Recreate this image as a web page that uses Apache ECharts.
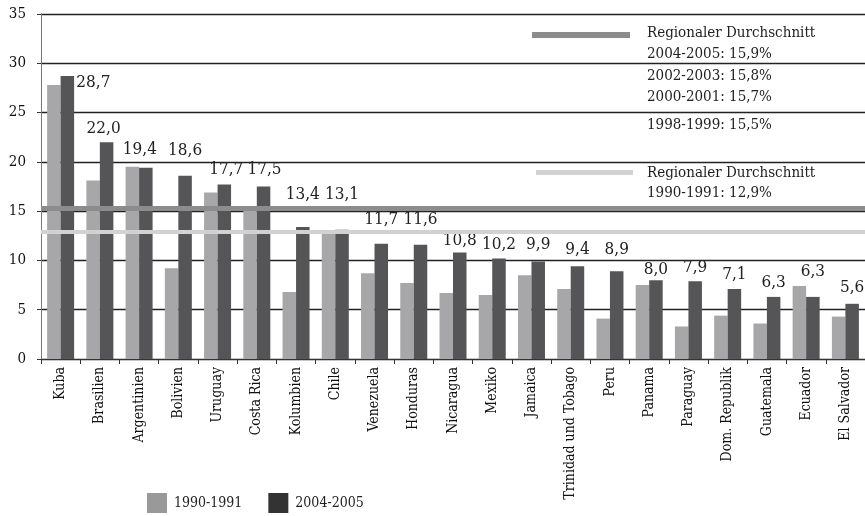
<!DOCTYPE html>
<html><head><meta charset="utf-8">
<script src="https://cdn.jsdelivr.net/npm/echarts@6/dist/echarts.min.js"></script>
<style>html,body{margin:0;padding:0;background:#fff}#c{width:865px;height:516px}</style>
</head><body><div id="c"></div>
<script>
const categories = ["Kuba","Brasilien","Argentinien","Bolivien","Uruguay","Costa Rica","Kolumbien","Chile","Venezuela","Honduras","Nicaragua","Mexiko","Jamaica","Trinidad und Tobago","Peru","Panama","Paraguay","Dom. Republik","Guatemala","Ecuador","El Salvador"];
const v1990 = [27.8,18.1,19.5,9.2,16.9,15.2,6.8,12.9,8.7,7.7,6.7,6.5,8.5,7.1,4.1,7.5,3.3,4.4,3.6,7.4,4.3];
const v2004 = [28.7,22.0,19.4,18.6,17.7,17.5,13.4,13.1,11.7,11.6,10.8,10.2,9.9,9.4,8.9,8.0,7.9,7.1,6.3,6.3,5.6];
const yTicks = [0,5,10,15,20,25,30,35];
const avgRecent = 15.3;   // drawn band of regional average (2004-2005)
const avg1990 = 12.9;     // drawn band of regional average (1990-1991)
const annoRecent = ["Regionaler Durchschnitt","2004-2005: 15,9%","2002-2003: 15,8%","2000-2001: 15,7%","1998-1999: 15,5%"];
const anno1990 = ["Regionaler Durchschnitt","1990-1991: 12,9%"];
// label offsets (style only)
const labelOffsets = [[26,20],[-3,0],[-6,-5],[0,-12],[2,-1],[1,-3],[0,-19],[0,-22],[0,-11],[0,-12],[0,2],[0,0],[0,-3],[0,-3],[0,-8],[0,3],[0,0],[0,-1],[0,-1],[0,-12],[0,-3]];

const FONT = "'DejaVu Serif Condensed', 'DejaVu Serif', serif";
const chart = echarts.init(document.getElementById('c'), null, {renderer:'canvas'});
const fmt = v => v.toFixed(1).replace('.', ',');
const annoStyle = {fontFamily: FONT, fontSize: 15, fill: '#222'};
const textY1 = [33,54,76,97,125];
const graphics = [
  {type:'rect', shape:{x:532,y:32,width:98,height:6}, style:{fill:'#8c8c8c'}},
  {type:'rect', shape:{x:536,y:170,width:97,height:5}, style:{fill:'#d2d2d2'}}
];
annoRecent.forEach((t,i)=>graphics.push({type:'text', x:647, y:textY1[i], style:Object.assign({text:t, textVerticalAlign:'middle'}, annoStyle)}));
anno1990.forEach((t,i)=>graphics.push({type:'text', x:647, y:[173,193][i], style:Object.assign({text:t, textVerticalAlign:'middle'}, annoStyle)}));

chart.setOption({
  animation:false,
  textStyle:{fontFamily:FONT},
  grid:{left:41, right:0, top:14, bottom:157, containLabel:false},
  legend:{
    left:142, top:488, itemWidth:20, itemHeight:20, itemGap:26, icon:'rect',
    textStyle:{fontFamily:FONT, fontSize:14, color:'#222', padding:[0,0,0,2]},
    data:[{name:'1990-1991', itemStyle:{color:'#999999'}},{name:'2004-2005', itemStyle:{color:'#333333'}}]
  },
  xAxis:{
    type:'category', data:categories,
    axisLine:{lineStyle:{color:'#333', width:1}},
    axisTick:{show:true, length:5, lineStyle:{color:'#333'}},
    axisLabel:{rotate:90, fontFamily:FONT, fontSize:14, color:'#111', margin:8, interval:0}
  },
  yAxis:{
    type:'value', min:0, max:35, interval:5,
    axisLine:{show:true, lineStyle:{color:'#777'}},
    axisTick:{show:true, length:4, inside:false, lineStyle:{color:'#333'}},
    axisLabel:{fontFamily:FONT, fontSize:15, color:'#111', margin:15, formatter:v=>yTicks.includes(v)?String(v):''},
    splitLine:{show:true, lineStyle:{color:'#222', width:1.3}}
  },
  series:[
    {name:'1990-1991', type:'bar', data:v1990, barWidth:13.5, barGap:'0%',
     itemStyle:{color:'#a7a7a9'}, z:2,
     markLine:{silent:true, symbol:'none', label:{show:false},
       data:[{yAxis:avg1990, lineStyle:{color:'#d2d2d2', width:4, type:'solid'}}]}},
    {name:'2004-2005', type:'bar', data:v2004.map((v,i)=>({value:v, label:{offset:labelOffsets[i]}})), barWidth:13.5,
     itemStyle:{color:'#555557'}, z:2,
     label:{show:true, position:'top', distance:5, fontFamily:FONT, fontSize:17, color:'#222', formatter:p=>fmt(p.value)},
     markLine:{silent:true, symbol:'none', label:{show:false},
       data:[{yAxis:avgRecent, lineStyle:{color:'#8c8c8c', width:5, type:'solid'}}]}}
  ],
  graphic:graphics
});
</script></body></html>
